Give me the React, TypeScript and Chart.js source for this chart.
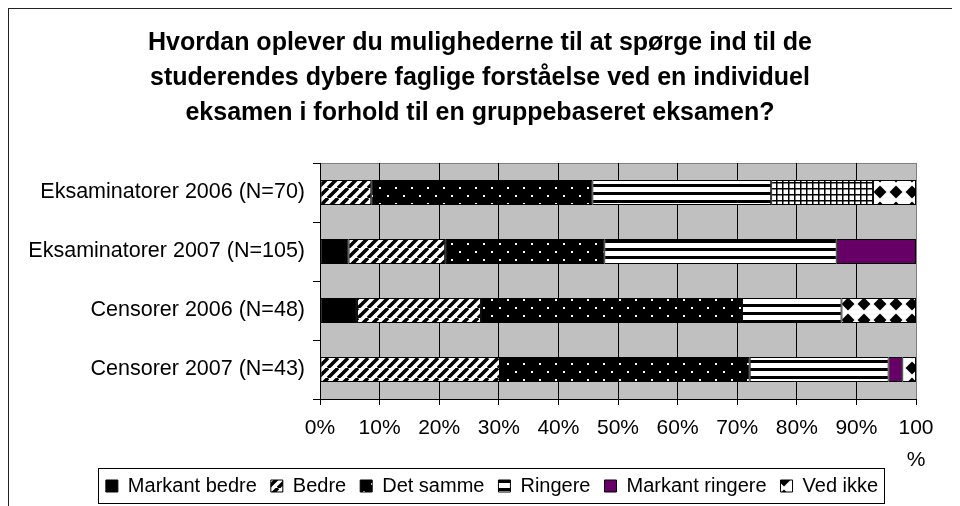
import React, { useEffect, useRef } from 'react';
import { Chart, registerables } from 'chart.js';

Chart.register(...registerables);

const categories = [
  'Eksaminatorer 2006 (N=70)',
  'Eksaminatorer 2007 (N=105)',
  'Censorer 2006 (N=48)',
  'Censorer 2007 (N=43)',
];

const seriesNames = ['Markant bedre', 'Bedre', 'Det samme', 'Ringere', 'Markant ringere', 'Ved ikke'];

const markantBedre = [0, 4.8, 6.2, 0];
const bedre = [8.6, 16.2, 20.8, 30.2];
const detSamme = [37.1, 26.7, 43.8, 41.9];
const ringere = [30.0, 39.0, 16.7, 23.3];
const markantRingere = [17.1, 13.3, 0, 2.3];
const vedIkke = [7.2, 0, 12.5, 2.3];

const xTickValues = [0, 10, 20, 30, 40, 50, 60, 70, 80, 90, 100];

const titleLines = [
  'Hvordan oplever du mulighederne til at spørge ind til de',
  'studerendes dybere faglige forståelse ved en individuel',
  'eksamen i forhold til en gruppebaseret eksamen?',
];

const FONT = '"Liberation Sans", Arial, Helvetica, sans-serif';

function makePattern(w: number, h: number, draw: (g: CanvasRenderingContext2D) => void): CanvasPattern | string {
  const c = document.createElement('canvas');
  c.width = w;
  c.height = h;
  const g = c.getContext('2d');
  if (!g) return '#000';
  draw(g);
  const p = g.createPattern(c, 'repeat');
  return p || '#000';
}

export default function App() {
  const ref = useRef<HTMLCanvasElement | null>(null);

  useEffect(() => {
    document.documentElement.style.overflow = 'hidden';
    const canvas = ref.current;
    if (!canvas) return;

    const hatch = makePattern(10, 10, (g) => {
      g.fillStyle = '#fff';
      g.fillRect(0, 0, 10, 10);
      g.strokeStyle = '#000';
      g.lineWidth = 3.5;
      g.beginPath();
      for (const o of [-10, 0, 10]) {
        g.moveTo(o, 10);
        g.lineTo(o + 10, 0);
      }
      g.stroke();
    });
    const dots = makePattern(16, 16, (g) => {
      g.fillStyle = '#000';
      g.fillRect(0, 0, 16, 16);
      g.fillStyle = '#fff';
      g.fillRect(3, 3, 2, 2);
      g.fillRect(11, 11, 2, 2);
    });
    const stripes = makePattern(4, 8, (g) => {
      g.fillStyle = '#fff';
      g.fillRect(0, 0, 4, 8);
      g.fillStyle = '#000';
      g.fillRect(0, 0, 4, 3);
    });
    const grid = makePattern(6, 6, (g) => {
      g.fillStyle = '#fff';
      g.fillRect(0, 0, 6, 6);
      g.fillStyle = '#000';
      g.fillRect(0, 0, 6, 1.5);
      g.fillRect(0, 0, 1.5, 6);
    });
    const diamonds = makePattern(16, 16, (g) => {
      g.fillStyle = '#fff';
      g.fillRect(0, 0, 16, 16);
      g.fillStyle = '#000';
      const r = 6.5;
      const cx = 8;
      const cy = 8;
      g.beginPath();
      g.moveTo(cx, cy - r);
      g.lineTo(cx + r, cy);
      g.lineTo(cx, cy + r);
      g.lineTo(cx - r, cy);
      g.closePath();
      g.fill();
    });
    const purple = '#660066';

    const frame = {
      id: 'frame',
      afterLayout(chart: any) {
        if (chart.legend) {
          chart.legend.left += 8;
          chart.legend.right += 8;
        }
        if (chart.titleBlock) {
          chart.titleBlock.left -= 4;
          chart.titleBlock.right -= 4;
        }
        const xs = chart.scales && chart.scales.x;
        if (xs) {
          xs.bottom += 14;
          xs.height += 14;
        }
      },
      beforeDraw(chart: any) {
        const { ctx, chartArea: a } = chart;
        ctx.save();
        ctx.fillStyle = '#fff';
        ctx.fillRect(0, 0, chart.width, chart.height);
        ctx.fillStyle = '#c0c0c0';
        ctx.fillRect(a.left, a.top, a.right - a.left, a.bottom - a.top);
        ctx.strokeStyle = '#808080';
        ctx.lineWidth = 1;
        ctx.strokeRect(Math.round(a.left) + 0.5, Math.round(a.top) + 0.5, Math.round(a.right - a.left), Math.round(a.bottom - a.top));
        ctx.restore();
      },
      afterDraw(chart: any) {
        const { ctx } = chart;
        ctx.save();
        ctx.strokeStyle = '#222';
        ctx.lineWidth = 1;
        ctx.strokeRect(0.5, 0.5, chart.width + 20, chart.height + 20);
        const hb = chart.legend && chart.legend.legendHitBoxes;
        if (hb && hb.length) {
          const first = hb[0];
          const last = hb[hb.length - 1];
          const x0 = Math.round(first.left) - 8;
          const x1 = Math.round(last.left + last.width) + 6;
          const y0 = Math.round(first.top) - 8;
          ctx.strokeStyle = '#000';
          ctx.strokeRect(x0 + 0.5, y0 + 0.5, x1 - x0, 35);
        }
        ctx.restore();
      },
    };

    const common = { borderColor: '#000', borderWidth: 1, borderSkipped: false as const };

    const chart = new Chart(canvas, {
      type: 'bar',
      data: {
        labels: categories,
        datasets: [
          { label: seriesNames[0], data: markantBedre, backgroundColor: '#000', ...common },
          { label: seriesNames[1], data: bedre, backgroundColor: hatch, ...common },
          { label: seriesNames[2], data: detSamme, backgroundColor: dots, ...common },
          { label: seriesNames[3], data: ringere, backgroundColor: stripes, ...common },
          {
            label: seriesNames[4],
            data: markantRingere,
            backgroundColor: (c: any) => (c.type === 'data' && c.dataIndex === 0 ? grid : purple),
            ...common,
          },
          { label: seriesNames[5], data: vedIkke, backgroundColor: diamonds, ...common },
        ],
      },
      plugins: [frame],
      options: {
        animation: false,
        responsive: false,
        indexAxis: 'y',
        categoryPercentage: 0.42,
        barPercentage: 1,
        layout: { padding: 0 },
        font: { family: FONT },
        scales: {
          x: {
            type: 'linear',
            stacked: true,
            min: 0,
            max: 100,
            afterBuildTicks: (s: any) => {
              s.ticks = xTickValues.map((v) => ({ value: v }));
            },
            afterFit: (s: any) => {
              s.height = 63;
            },
            ticks: {
              color: '#000',
              font: { family: FONT, size: 21, lineHeight: 32 / 21 },
              padding: 7,
              maxRotation: 0,
              autoSkip: false,
              callback: (v: any) => (Number(v) === 100 ? ['100', '%'] : v + '%'),
            },
            grid: {
              color: (c: any) => (c.tick && c.tick.value === 100 ? '#808080' : '#000'),
              tickColor: '#000',
              tickLength: 6,
              lineWidth: 1,
            },
            border: { display: true, color: '#000', width: 1 },
          },
          y: {
            type: 'category',
            stacked: true,
            offset: true,
            afterFit: (s: any) => {
              s.width = 312;
            },
            ticks: {
              color: '#000',
              font: { family: FONT, size: 21.5 },
              padding: 8,
            },
            grid: {
              offset: true,
              drawOnChartArea: false,
              drawTicks: true,
              tickLength: 7,
              color: '#000',
            },
            border: { display: true, color: '#000', width: 1 },
          },
          yRight: {
            type: 'category',
            position: 'right',
            display: true,
            afterFit: (s: any) => {
              s.width = 44;
            },
            ticks: { display: false },
            grid: { display: false, drawTicks: false },
            border: { display: false },
          },
        },
        plugins: {
          title: {
            display: true,
            text: titleLines,
            color: '#000',
            font: { family: FONT, size: 25, weight: 'bold', lineHeight: 35 / 25 },
            padding: { top: 18, bottom: 32 },
          },
          legend: {
            display: true,
            position: 'bottom',
            labels: {
              color: '#000',
              boxWidth: 12,
              boxHeight: 12,
              padding: 14,
              font: { family: FONT, size: 20 },
              generateLabels: (ch: any) => {
                const items = Chart.defaults.plugins.legend.labels.generateLabels(ch);
                return items.map((it: any) => (it.datasetIndex === 4 ? { ...it, fillStyle: purple } : it));
              },
            },
          },
          tooltip: { enabled: false },
        },
      } as any,
    });

    return () => {
      chart.destroy();
    };
  }, []);

  return (
    <div style={{ width: 952, height: 498 }}>
      <canvas ref={ref} width={952} height={498} style={{ display: 'block' }} />
    </div>
  );
}
